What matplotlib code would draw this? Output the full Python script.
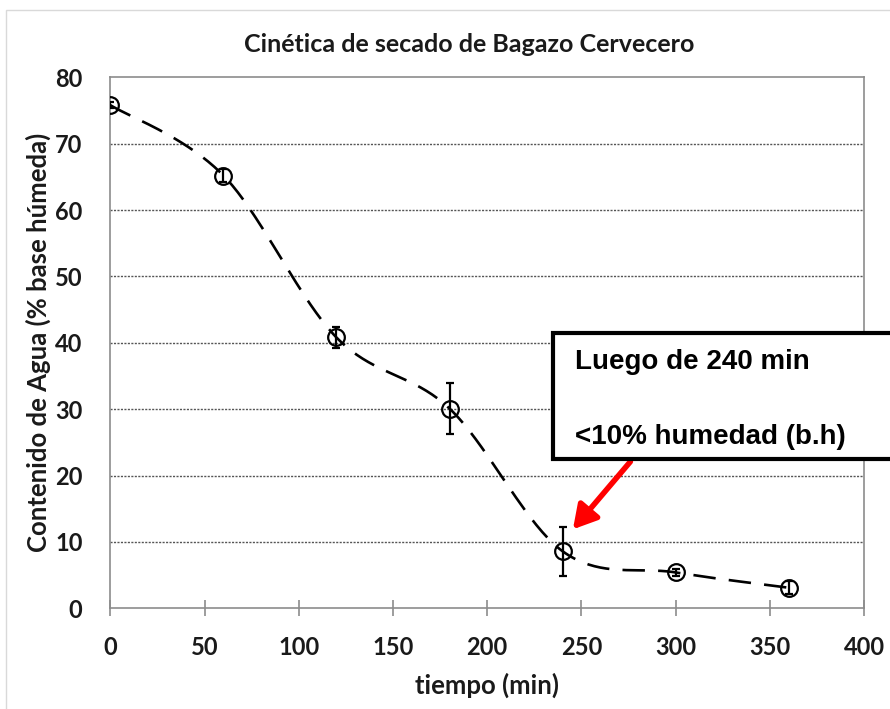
import numpy as np
import matplotlib
matplotlib.use("Agg")
import matplotlib.pyplot as plt
from matplotlib.patches import Rectangle, FancyArrowPatch

# ---- data ----
tiempo = [0, 60, 120, 180, 240, 300, 360]
humedad = [75.8, 65.2, 40.8, 30.1, 8.6, 5.4, 3.1]
error = [0.5, 1.0, 1.6, 3.8, 3.7, 0.5, 1.0]
x_ticks = [0, 50, 100, 150, 200, 250, 300, 350, 400]
y_ticks = [0, 10, 20, 30, 40, 50, 60, 70, 80]
titulo = "Cinética de secado de Bagazo Cervecero"
xlabel = "tiempo (min)"
ylabel = "Contenido de Agua (% base húmeda)"
nota_l1 = "Luego de 240 min"
nota_l2 = "<10% humedad (b.h)"
flecha_tip = (245.5, 11.9)
flecha_tail = (276.0, 22.1)


def smooth_curve(xs, ys, n=40):
    """Excel-like smoothed line (Catmull-Rom Bezier) through the points."""
    P = np.column_stack([xs, ys]).astype(float)
    P = np.vstack([P[0], P, P[-1]])
    out = []
    t = np.linspace(0, 1, n)
    for i in range(1, len(P) - 2):
        p0, p1, p2, p3 = P[i - 1], P[i], P[i + 1], P[i + 2]
        c1 = p1 + (p2 - p0) / 6.0
        c2 = p2 - (p3 - p1) / 6.0
        seg = ((1 - t) ** 3)[:, None] * p1 + (3 * (1 - t) ** 2 * t)[:, None] * c1 \
            + (3 * (1 - t) * t ** 2)[:, None] * c2 + (t ** 3)[:, None] * p2
        out.append(seg if i == 1 else seg[1:])
    out = np.vstack(out)
    return out[:, 0], out[:, 1]


plt.rcParams['font.family'] = ['Lato', 'DejaVu Sans']

fig = plt.figure(figsize=(8.9, 7.09), dpi=100)
fig.patch.set_facecolor('white')

# outer chart-area frame
fig.add_artist(Rectangle((6 / 890, 0 - 0.01), 1.0, 1 - 10 / 709 + 0.01,
                         transform=fig.transFigure, fill=False,
                         edgecolor='#d9d9d9', lw=1.0, clip_on=False))

ax = fig.add_axes([110.4 / 890, (709 - 608.3) / 709,
                   (864 - 110.4) / 890, (608.3 - 77.3) / 709])

ax.set_xlim(0, 400)
ax.set_ylim(0, 80)
ax.set_xticks(x_ticks)
ax.set_yticks(y_ticks)

# grid lines
for yv in y_ticks[1:-1]:
    ax.axhline(yv, color='#555555', lw=1.0, ls=(0, (1.5, 1.0)), zorder=0.5)

for s in ax.spines.values():
    s.set_color('#8c8c8c')
    s.set_linewidth(1.2)

ax.tick_params(axis='x', direction='inout', length=12, width=1.2,
               color='#8c8c8c', pad=14, labelsize=17)
ax.tick_params(axis='y', length=0, pad=20, labelsize=17)
for lab in ax.get_xticklabels() + ax.get_yticklabels():
    lab.set_fontweight('bold')
    lab.set_color('#1a1a1a')

# smoothed dashed line
sx, sy = smooth_curve(tiempo, humedad)
ax.plot(sx, sy, color='black', lw=1.9, dashes=(8.5, 5), zorder=2)

# points with error bars
ax.errorbar(tiempo, humedad, yerr=error, fmt='o', mfc='none', mec='black',
            mew=1.6, ms=12, ecolor='black', elinewidth=1.6, capsize=3,
            capthick=1.6, zorder=3)

ax.set_xlabel(xlabel, fontsize=18.5, fontweight='bold', color='#1a1a1a')
ax.xaxis.set_label_coords(0.5, (608.3 - 685) / (608.3 - 77.3))
ax.set_ylabel(ylabel, fontsize=18.5, fontweight='bold', color='#1a1a1a')
ax.yaxis.set_label_coords((38 - 110.4) / (864 - 110.4), 0.5)
ax.yaxis.label.set_va('center')
ax.xaxis.label.set_va('center')

fig.text(469 / 890, 1 - 45 / 709, titulo, ha='center', va='center',
         fontsize=18, fontweight='bold', color='#1a1a1a')

# annotation box (extends past right edge)
fig.add_artist(Rectangle((553 / 890, (709 - 459) / 709), 0.5, 126 / 709,
                         transform=fig.transFigure, facecolor='white',
                         edgecolor='black', lw=3, clip_on=False, zorder=5))
fig.text(575 / 890, 1 - 362 / 709, nota_l1, ha='left', va='center',
         fontsize=20, fontweight='bold', family=['Liberation Sans'], zorder=6)
fig.text(575 / 890, 1 - 437 / 709, nota_l2, ha='left', va='center',
         fontsize=20, fontweight='bold', family=['Liberation Sans'], zorder=6)

ax.add_patch(FancyArrowPatch(flecha_tail, flecha_tip,
                             arrowstyle='-|>,head_length=14,head_width=8',
                             color='#ff0000', lw=4, shrinkA=0, shrinkB=0,
                             clip_on=False, zorder=4))

fig.savefig('out.png', dpi=100)
